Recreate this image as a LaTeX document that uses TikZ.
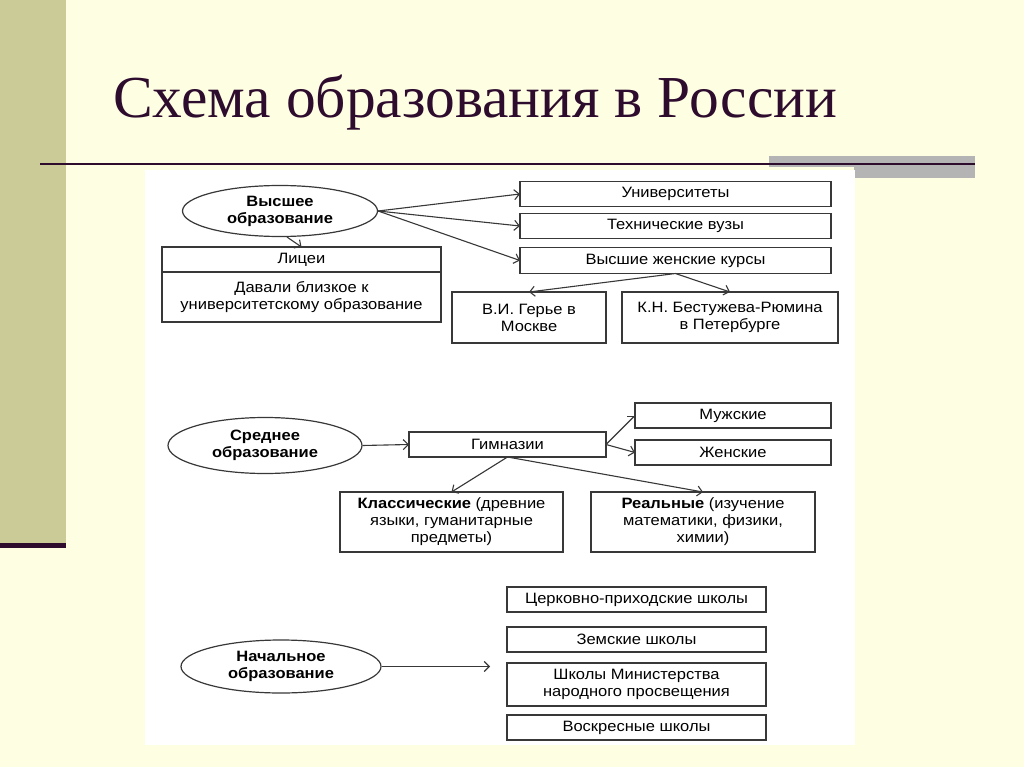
\documentclass[tikz,border=0pt]{standalone}
\usepackage{fontspec}
\setmainfont{Liberation Serif}
\newfontfamily\diagfont[FakeStretch=1.1]{Liberation Sans}
\usetikzlibrary{positioning,shapes.geometric,arrows.meta}

\definecolor{slidebg}{HTML}{FEFEE2}
\definecolor{sidebar}{HTML}{CBCB97}
\definecolor{titleink}{HTML}{2E0C2E}
\definecolor{bargray}{HTML}{B4B4B4}
\definecolor{boxline}{HTML}{383838}

\tikzset{
  box/.style={draw=boxline, line width=1.2pt, fill=white, inner sep=2pt, outer sep=0pt,
    align=center, font=\diagfont\fontsize{15}{17}\selectfont},
  level/.style={ellipse, draw=boxline, line width=1.2pt, inner sep=0pt,
    align=center, font=\diagfont\bfseries\fontsize{15}{17}\selectfont},
  link/.style={->, draw=boxline, line width=1.1pt},
}

\begin{document}
\begin{tikzpicture}[x=1pt, y=-1pt, >={Straight Barb[length=5pt, width=10pt]}]
  % slide background
  \fill[slidebg] (0,0) rectangle (1024,767);
  \useasboundingbox (0,0) rectangle (1024,767);
  \fill[sidebar] (0,0) rectangle (66,545);
  \fill[titleink] (0,543) rectangle (66,548);
  % title and rule
  \node[titleink, font=\fontsize{59.5}{64}\selectfont, anchor=base west, inner sep=0pt] (title) at (113,118) {Схема образования в России};
  \fill[bargray] (769,156) rectangle (975,167);
  \fill[bargray] (854,167) rectangle (975,178);
  \draw[titleink, line width=2.5pt] (40,164) -- (975,164);
  % white panel
  \fill[white] (145,170) rectangle (855,745);

  % higher education
  \node[level, minimum width=195pt, minimum height=51pt] (higher) at (280,211) {Высшее\\образование};
  \node[box, minimum width=311pt, minimum height=25pt] (univ) at (675.5,194) {Университеты};
  \node[box, minimum width=311pt, minimum height=25pt] (tech) at (675.5,226) {Технические вузы};
  \node[box, minimum width=311pt, minimum height=26pt] (courses) at (675.5,260.5) {Высшие женские курсы};
  \node[box, minimum width=279pt, minimum height=25pt] (lyc) at (301.5,259.5) {Лицеи};
  \node[box, minimum width=279pt, minimum height=50pt, below=0pt of lyc] (lycnote) {Давали близкое к\\университетскому образование};
  \node[box, minimum width=154pt, minimum height=51pt] (gerie) at (529,317.5) {В.И. Герье в\\Москве};
  \node[box, minimum width=216pt, minimum height=51pt] (bestuzh) at (730,317.5) {К.Н. Бестужева-Рюмина\\в Петербурге};
  \draw[link] (higher.east) -- (univ.west);
  \draw[link] (higher.east) -- (tech.west);
  \draw[link] (higher.east) -- (courses.west);
  \draw[link] (higher.285) -- (lyc.north);
  \draw[link] (courses.south) -- (gerie.north);
  \draw[link] (courses.south) -- (bestuzh.north);

  % secondary education
  \node[level, minimum width=194pt, minimum height=56pt] (secondary) at (265,445.5) {Среднее\\образование};
  \node[box, minimum width=197pt, minimum height=25pt] (gymn) at (507.5,444.5) {Гимназии};
  \node[box, minimum width=196pt, minimum height=25pt] (male) at (733,415.5) {Мужские};
  \node[box, minimum width=196pt, minimum height=25pt] (female) at (733,452.5) {Женские};
  \node[box, minimum width=223pt, minimum height=60pt] (classic) at (451.5,522) {\textbf{Классические} (древние\\языки, гуманитарные\\предметы)};
  \node[box, minimum width=224pt, minimum height=60pt] (real) at (703,522) {\textbf{Реальные} (изучение\\математики, физики,\\химии)};
  \draw[link] (secondary.east) -- (gymn.west);
  \draw[link] (gymn.east) -- (male.west);
  \draw[link] (gymn.east) -- (female.west);
  \draw[link] (gymn.south) -- (classic.north);
  \draw[link] (gymn.south) -- (real.north);

  % primary education
  \node[level, minimum width=200pt, minimum height=53pt] (primary) at (281,666.5) {Начальное\\образование};
  \coordinate (primend) at (490,666.5);
  \node[box, minimum width=259pt, minimum height=25pt] (church) at (636.5,599.5) {Церковно-приходские школы};
  \node[box, minimum width=259pt, minimum height=25pt] (zemstvo) at (636.5,639.5) {Земские школы};
  \node[box, minimum width=259pt, minimum height=43pt] (ministry) at (636.5,684.5) {Школы Министерства\\народного просвещения};
  \node[box, minimum width=259pt, minimum height=25pt] (sunday) at (636.5,727.5) {Воскресные школы};
  \draw[link] (primary.east) -- (primend);
\end{tikzpicture}
\end{document}
